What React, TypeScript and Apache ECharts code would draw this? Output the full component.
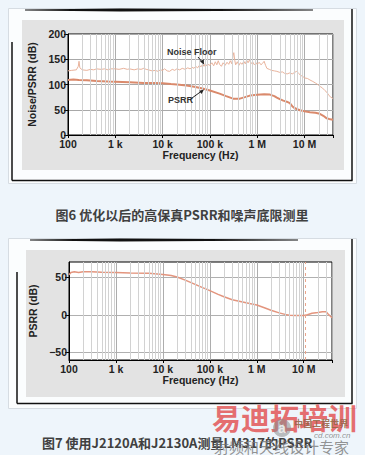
import React, { useEffect, useRef } from "react";
import * as echarts from "echarts";

// ---------- data ----------
const xTickLabels: Record<number, string> = { 2: "100", 3: "1 k", 4: "10 k", 5: "100 k", 6: "1 M", 7: "10 M" };
const yTicks2 = [-50, 0, 50];

const psrr1Freq = [100, 130, 170, 250, 400, 700, 1000, 2000, 4000, 7000, 10000, 15000, 20000, 32000, 50000, 70000, 100000, 160000, 220000, 310000, 430000, 550000, 700000, 1000000, 1400000, 1860000, 2300000, 2600000, 3000000, 3560000, 4200000, 4900000, 5500000, 6000000, 7000000, 8000000, 10000000, 13000000, 17000000, 21000000, 25000000, 29500000, 35000000, 40000000];
const psrr1Val = [109, 110, 109, 108.5, 107, 106, 105.5, 104.5, 103, 103, 102.5, 101, 100, 98, 95, 92, 88, 82, 77, 72, 72, 75, 78, 79.5, 80.5, 80, 77, 74, 71, 68, 66, 63, 57, 54, 51, 49, 47, 45, 44, 42, 38, 33, 31, 30];

const noiseFreq = [100, 120, 150, 165, 171, 178, 200, 250, 300, 350, 400, 500, 600, 700, 800, 1000, 1200, 1500, 1800, 2000, 2500, 3000, 3500, 4000, 4500, 5000, 6000, 7000, 8000, 9000, 10000, 11000, 12500, 14000, 16000, 18000, 20000, 23000, 26000, 30000, 34000, 38000, 42000, 46000, 50000, 55000, 60000, 65000, 70000, 75000, 80000, 85000, 90000, 100000, 110000, 120000, 130000, 140000, 150000, 160000, 175000, 190000, 210000, 230000, 250000, 270000, 290000, 310000, 320000, 335000, 350000, 380000, 410000, 440000, 480000, 520000, 560000, 600000, 640000, 690000, 740000, 800000, 870000, 950000, 1000000, 1100000, 1200000, 1300000, 1400000, 1500000, 1600000, 1800000, 2000000, 2300000, 2600000, 3000000, 3400000, 3800000, 4300000, 4900000, 5500000, 6200000, 6800000, 7500000, 8300000, 9200000, 10000000, 11500000, 13000000, 15000000, 17000000, 19000000, 21500000, 24000000, 27000000, 30000000, 33000000, 36000000, 40000000];
const noiseVal = [127, 128, 129, 136, 146, 133, 129, 128, 130, 129, 131, 130, 131, 129, 131, 131, 130, 132, 130, 131, 129, 131, 130, 132, 130, 129, 127, 128, 126, 129, 128, 131, 127, 126, 130, 128, 131, 129, 132, 130, 133, 131, 134, 132, 136, 133, 138, 135, 140, 136, 142, 137, 140, 138, 143, 137, 145, 139, 147, 140, 136, 143, 138, 144, 140, 147, 141, 158, 163, 148, 139, 145, 138, 143, 140, 146, 141, 148, 143, 149, 141, 145, 139, 143, 140, 144, 139, 142, 146, 138, 132, 130, 128, 127, 126, 124, 125, 122, 121, 123, 121, 124, 126, 122, 118, 116, 113, 112, 109, 106, 103, 100, 96, 93, 88, 84, 78, 75, 72];

const psrr2Freq = [100, 110, 130, 160, 200, 300, 500, 1000, 2000, 5000, 10000, 15000, 20000, 30000, 50000, 70000, 100000, 150000, 200000, 300000, 500000, 700000, 1000000, 1500000, 2000000, 3000000, 4000000, 5000000, 7000000, 10000000, 12000000, 15000000, 20000000, 25000000, 30000000, 33000000, 37000000, 40000000];
const psrr2Val = [53, 56, 57, 56, 57, 57, 56.5, 56, 55.5, 55, 53.5, 52, 50, 46, 40, 36, 32, 27, 24, 20, 17, 15, 13, 9, 6, 2.5, 0.5, -0.5, -1, -1, 0, 2, 3, 4, 4, 1, -2, -4];

const markerFreq2 = 11000000;

const caption1 = "图6 优化以后的高保真PSRR和噪声底限测里";
const caption2 = "图7 使用J2120A和J2130A测量LM317的PSRR";

// minor log grid positions (2..9 in each decade)
const minorFreqs: number[] = [];
for (let e = 2; e <= 7; e++) {
  for (let m = 2; m <= 9; m++) {
    const v = m * Math.pow(10, e);
    if (v < 4e7) minorFreqs.push(v);
  }
}

const zip = (a: number[], b: number[]) => a.map((x, i) => [x, b[i]]);

const FONT = "'Liberation Sans', Arial, sans-serif";
const CJK = "'Noto Sans CJK SC', sans-serif";

function xAxisOpt(gridIndex: number) {
  return {
    type: "log",
    logBase: 10,
    gridIndex,
    min: 100,
    max: 4e7,
    axisLine: { show: true, onZero: false, lineStyle: { color: "#000", width: 1 } },
    axisTick: { show: true, length: 3, lineStyle: { color: "#000" } },
    axisLabel: {
      fontFamily: FONT,
      fontWeight: "bold",
      fontSize: 10.5,
      color: "#222",
      margin: 3,
      formatter: (v: number) => {
        const l = Math.log10(v);
        const e = Math.round(l);
        if (Math.abs(l - e) > 1e-6) return "";
        return xTickLabels[e] ?? "";
      },
    },
    splitLine: { show: true, lineStyle: { color: "#adadad", width: 1 } },
    name: "Frequency (Hz)",
    nameLocation: "middle",
    nameGap: 14,
    nameTextStyle: { fontFamily: FONT, fontWeight: "bold", fontSize: 10.5, color: "#222" },
  };
}

function minorSeries(xi: number, yi: number, y0: number) {
  return {
    type: "line",
    xAxisIndex: xi,
    yAxisIndex: yi,
    data: [[100, y0]],
    showSymbol: false,
    lineStyle: { opacity: 0 },
    silent: true,
    z: 1,
    markLine: {
      silent: true,
      symbol: ["none", "none"],
      label: { show: false },
      lineStyle: { color: "#d2d2d2", width: 1, type: "solid" },
      emphasis: { disabled: true },
      data: minorFreqs.map((f) => ({ xAxis: f })),
    },
  };
}

export default function App() {
  const ref = useRef<HTMLDivElement>(null);
  useEffect(() => {
    if (!ref.current) return;
    const chart = echarts.init(ref.current, undefined, { renderer: "svg" });
    const arrowHead = (pts: number[][]) => ({ type: "polygon", z: 100, shape: { points: pts }, style: { fill: "#222" } });
    const option: any = {
      animation: false,
      backgroundColor: "#eef5fb",
      grid: [
        { left: 68, top: 34, width: 265, height: 101, show: true, backgroundColor: "#fff", borderColor: "#000", borderWidth: 1, z: 0 },
        { left: 69, top: 262, width: 263, height: 98, show: true, backgroundColor: "#fff", borderColor: "#000", borderWidth: 1, z: 0 },
      ],
      xAxis: [xAxisOpt(0), xAxisOpt(1)],
      yAxis: [
        {
          type: "value",
          gridIndex: 0,
          min: 0,
          max: 200,
          interval: 50,
          axisLine: { show: true, onZero: false, lineStyle: { color: "#000" } },
          axisTick: { show: true, length: 4, lineStyle: { color: "#000" } },
          axisLabel: { fontFamily: FONT, fontWeight: "bold", fontSize: 10.5, color: "#222", margin: 2 },
          splitLine: { show: true, lineStyle: { color: "#a8a8a8" } },
          name: "Noise/PSRR (dB)",
          nameLocation: "middle",
          nameGap: 25,
          nameTextStyle: { fontFamily: FONT, fontWeight: "bold", fontSize: 10.5, color: "#222" },
        },
        {
          type: "value",
          gridIndex: 1,
          min: -60,
          max: 70,
          axisLine: { show: true, onZero: false, lineStyle: { color: "#000" } },
          axisTick: { show: true, length: 4, lineStyle: { color: "#000" }, customValues: yTicks2 },
          axisLabel: { fontFamily: FONT, fontWeight: "bold", fontSize: 10.5, color: "#222", margin: 2, customValues: yTicks2, formatter: (v: number) => (v < 0 ? "\u2212" + Math.abs(v) : String(v)) },
          splitLine: { show: true, lineStyle: { color: "#b0b0b0" } },
          name: "PSRR (dB)",
          nameLocation: "middle",
          nameGap: 20,
          nameTextStyle: { fontFamily: FONT, fontWeight: "bold", fontSize: 10.5, color: "#222" },
        },
      ],
      series: [
        minorSeries(0, 0, 0),
        minorSeries(1, 1, 0),
        {
          name: "Noise Floor",
          type: "line",
          xAxisIndex: 0,
          yAxisIndex: 0,
          data: zip(noiseFreq, noiseVal),
          showSymbol: false,
          lineStyle: { color: "#e9b39c", width: 1 },
          z: 3,
        },
        {
          name: "PSRR",
          type: "line",
          xAxisIndex: 0,
          yAxisIndex: 0,
          data: zip(psrr1Freq, psrr1Val),
          showSymbol: false,
          lineStyle: { color: "#da8a6c", width: 2 },
          z: 4,
        },
        {
          name: "PSRR LM317",
          type: "line",
          xAxisIndex: 1,
          yAxisIndex: 1,
          data: zip(psrr2Freq, psrr2Val),
          showSymbol: false,
          lineStyle: { color: "#e3957e", width: 1.5 },
          z: 4,
          markLine: {
            silent: true,
            symbol: ["none", "none"],
            label: { show: false },
            lineStyle: { color: "#eaa58c", width: 1, type: [3, 3] },
            data: [{ xAxis: markerFreq2 }],
          },
        },
      ],
      graphic: [
        // card 1
        { type: "rect", z: -10, shape: { x: 8.5, y: 8.5, width: 348, height: 175 }, style: { fill: "#fbfdfe", stroke: "#d6dce2", lineWidth: 1 } },
        { type: "rect", z: -9, shape: { x: 22, y: 20, width: 322, height: 150 }, style: { fill: "#e3e3e3" } },
        { type: "polygon", z: -8, shape: { points: [[25, 9.5], [120, 8.5], [313, 9.5], [313, 10.5], [120, 11.5], [25, 10.5]] }, style: { fill: "#111" } },
        { type: "line", z: -8, shape: { x1: 352, y1: 9, x2: 352, y2: 180.5 }, style: { stroke: "#111", lineWidth: 1.5 } },
        { type: "line", z: -8, shape: { x1: 12, y1: 180.5, x2: 352.5, y2: 180.5 }, style: { stroke: "#111", lineWidth: 1.5 } },
        { type: "line", z: -8, shape: { x1: 12, y1: 42, x2: 12, y2: 180.5 }, style: { stroke: "#111", lineWidth: 1.5 } },
        // annotations chart 1
        { type: "text", z: 100, x: 167, y: 52, style: { text: "Noise Floor", font: `bold 9px ${FONT}`, fill: "#333", textVerticalAlign: "middle" } },
        { type: "line", z: 100, shape: { x1: 198, y1: 57, x2: 202.5, y2: 62.5 }, style: { stroke: "#222", lineWidth: 1 } },
        arrowHead([[204, 64.5], [200, 61.5], [203.8, 59.3]]),
        { type: "text", z: 100, x: 168, y: 100, style: { text: "PSRR", font: `bold 9px ${FONT}`, fill: "#333", textVerticalAlign: "middle" } },
        { type: "line", z: 100, shape: { x1: 190, y1: 99.5, x2: 201, y2: 91.5 }, style: { stroke: "#222", lineWidth: 1 } },
        arrowHead([[204, 89.5], [201.5, 94], [199.2, 90.8]]),
        // caption 1
        { type: "text", z: 100, x: 182, y: 214, style: { text: caption1, font: `bold 13px ${CJK}`, fill: "#404040", textAlign: "center", textVerticalAlign: "middle" } },
        // card 2
        { type: "rect", z: -10, shape: { x: 8.5, y: 238.5, width: 348, height: 170 }, style: { fill: "#fbfdfe", stroke: "#d6dce2", lineWidth: 1 } },
        { type: "rect", z: -9, shape: { x: 26, y: 250, width: 319, height: 147 }, style: { fill: "#e3e3e3" } },
        { type: "polygon", z: -8, shape: { points: [[30, 239.5], [120, 238.5], [298, 239.5], [298, 240.5], [120, 241.5], [30, 240.5]] }, style: { fill: "#111" } },
        { type: "line", z: -8, shape: { x1: 352, y1: 239, x2: 352, y2: 403.5 }, style: { stroke: "#111", lineWidth: 1.5 } },
        { type: "line", z: -8, shape: { x1: 17, y1: 403.5, x2: 352.5, y2: 403.5 }, style: { stroke: "#111", lineWidth: 1.5 } },
        { type: "line", z: -8, shape: { x1: 17, y1: 272, x2: 17, y2: 403.5 }, style: { stroke: "#111", lineWidth: 1.5 } },
        // caption 2
        { type: "text", z: 100, x: 42, y: 442, style: { text: caption2, font: `bold 13px ${CJK}`, fill: "#404040", textVerticalAlign: "middle" } },
        // watermark
        { type: "text", z: 110, x: 212, y: 417, style: { text: "易迪拓培训", font: `bold 29px ${CJK}`, fill: "rgba(226,80,80,0.82)", textVerticalAlign: "middle" } },
        { type: "circle", z: 111, shape: { cx: 282, cy: 428, r: 9 }, style: { fill: "rgba(140,140,140,0.55)" } },
        { type: "text", z: 112, x: 282, y: 428, style: { text: "a", font: `bold 14px ${FONT}`, fill: "rgba(240,240,240,0.9)", textAlign: "center", textVerticalAlign: "middle" } },
        { type: "text", z: 112, x: 294, y: 423, style: { text: "中国工程世界", font: `bold 9px ${CJK}`, fill: "rgba(150,100,70,0.9)", textVerticalAlign: "middle" } },
        { type: "text", z: 112, x: 314, y: 435, style: { text: "cd.com.cn", font: `italic 8px ${FONT}`, fill: "rgba(120,120,120,0.8)", textVerticalAlign: "middle" } },
        { type: "text", z: 112, x: 214, y: 446, style: { text: "射频和天线设计专家", font: `15px ${CJK}`, fill: "rgba(120,120,120,0.8)", textVerticalAlign: "middle" } },
      ],
    };
    chart.setOption(option);
    return () => chart.dispose();
  }, []);
  return <div ref={ref} style={{ position: "absolute", left: 0, top: 0, width: 365, height: 455 }} />;
}
